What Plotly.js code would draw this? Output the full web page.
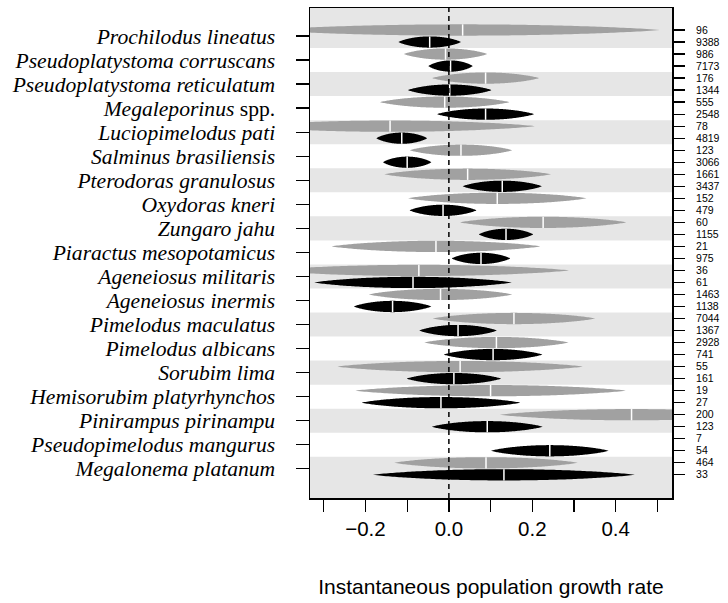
<!DOCTYPE html>
<html>
<head>
<meta charset="utf-8">
<script src="https://cdn.plot.ly/plotly-3.0.1.min.js"></script>
<style>html,body{margin:0;padding:0;background:#fff;}#chart{width:728px;height:603px;}</style>
</head>
<body>
<div id="chart"></div>
<script>
const species = [
  "<i>Prochilodus lineatus</i>",
  "<i>Pseudoplatystoma corruscans</i>",
  "<i>Pseudoplatystoma reticulatum</i>",
  "<i>Megaleporinus</i> spp.",
  "<i>Luciopimelodus pati</i>",
  "<i>Salminus brasiliensis</i>",
  "<i>Pterodoras granulosus</i>",
  "<i>Oxydoras kneri</i>",
  "<i>Zungaro jahu</i>",
  "<i>Piaractus mesopotamicus</i>",
  "<i>Ageneiosus militaris</i>",
  "<i>Ageneiosus inermis</i>",
  "<i>Pimelodus maculatus</i>",
  "<i>Pimelodus albicans</i>",
  "<i>Sorubim lima</i>",
  "<i>Hemisorubim platyrhynchos</i>",
  "<i>Pinirampus pirinampu</i>",
  "<i>Pseudopimelodus mangurus</i>",
  "<i>Megalonema platanum</i>"
];
// grey (upper) estimates: centre and half-width of interval
const greyMean = [0.033, -0.008, 0.088, -0.010, -0.141, 0.029, 0.045, 0.116, 0.226, -0.031, -0.072, -0.020, 0.156, 0.114, 0.027, 0.100, 0.438, null, 0.089];
const greyHalf = [0.473, 0.100, 0.128, 0.155, 0.347, 0.123, 0.200, 0.214, 0.199, 0.250, 0.360, 0.172, 0.195, 0.173, 0.294, 0.324, 0.316, null, 0.220];
// black (lower) estimates
const blackMean = [-0.046, 0.004, 0.002, 0.088, -0.113, -0.100, 0.128, -0.014, 0.137, 0.077, -0.086, -0.135, 0.022, 0.106, 0.012, -0.019, 0.092, 0.242, 0.132];
const blackHalf = [0.075, 0.053, 0.100, 0.116, 0.061, 0.058, 0.095, 0.080, 0.065, 0.070, 0.237, 0.093, 0.093, 0.118, 0.113, 0.190, 0.133, 0.141, 0.314];
// sample sizes
const greyN  = [96, 986, 176, 555, 78, 123, 1661, 152, 60, 21, 36, 1463, 7044, 2928, 55, 19, 200, 7, 464];
const blackN = [9388, 7173, 1344, 2548, 4819, 3066, 3437, 479, 1155, 975, 61, 1138, 1367, 741, 161, 27, 123, 54, 33];
const xTickVals = [-0.3, -0.2, -0.1, 0.0, 0.1, 0.2, 0.3, 0.4, 0.5];
const xTickText = ["", "\u22120.2", "", "0.0", "", "0.2", "", "0.4", ""];

const GREY = "#a1a1a1", BLACK = "#000000", BAND = "#e6e6e6";
const H = 0.47; // half height in row units
const traces = [];
const centreX = [], centreY = [];

function eye(m, hw, row, color) {
  const n = 120;
  const xs = [], ys = [];
  const prof = d => H * Math.pow(Math.max(0, 1 - d * d), 0.85);
  for (let k = 0; k <= n; k++) {
    const d = -1 + 2 * k / n;
    xs.push(m + d * hw); ys.push(row - prof(d));
  }
  for (let k = n; k >= 0; k--) {
    const d = -1 + 2 * k / n;
    xs.push(m + d * hw); ys.push(row + prof(d));
  }
  traces.push({type: "scatter", mode: "lines", x: xs, y: ys, fill: "toself",
    fillcolor: color, line: {width: 0, color: color, simplify: false},
    hoverinfo: "skip", showlegend: false});
  centreX.push(m, m, null); centreY.push(row - H, row + H, null);
}

species.forEach((s, i) => {
  if (greyMean[i] !== null) eye(greyMean[i], greyHalf[i], 2 * i, GREY);
  eye(blackMean[i], blackHalf[i], 2 * i + 1, BLACK);
});
traces.push({type: "scatter", mode: "lines", x: centreX, y: centreY,
  line: {color: "#ffffff", width: 1.5}, hoverinfo: "skip", showlegend: false});
const rowVals = [], rowText = [];
species.forEach((s, i) => { rowVals.push(2 * i, 2 * i + 1); rowText.push(String(greyN[i]), String(blackN[i])); });
traces.push({type: "scatter", mode: "markers", x: [0], y: [0], yaxis: "y2",
  marker: {opacity: 0}, hoverinfo: "skip", showlegend: false});

const shapes = [];
species.forEach((s, i) => {
  if (i % 2 === 1) shapes.push({type: "rect", xref: "paper", yref: "y", x0: 0, x1: 1,
    y0: 2 * i - 0.5, y1: 2 * i + 1.5, fillcolor: "#ffffff", line: {width: 0}, layer: "below"});
});
shapes.push({type: "line", xref: "x", yref: "paper", x0: 0, x1: 0, y0: 0, y1: 1,
  line: {color: "#000", width: 1.5, dash: "5px,4px"}, layer: "above"});

const yRange = [38.93, -1.83];
const layout = {
  width: 728, height: 603,
  margin: {l: 310, r: 56, t: 8, b: 105},
  paper_bgcolor: "#ffffff", plot_bgcolor: BAND,
  showlegend: false,
  shapes: shapes,
  xaxis: {
    range: [-0.333, 0.535], tickvals: xTickVals, ticktext: xTickText,
    ticks: "outside", ticklen: 12, tickwidth: 1.3, tickcolor: "#000",
    showgrid: false, zeroline: false, showline: true, mirror: true, linecolor: "#000", linewidth: 1.5,
    tickfont: {family: "Liberation Sans, Arial, sans-serif", size: 20.5, color: "#000"},
    ticklabelstandoff: 0,
    title: {text: "Instantaneous population growth rate", standoff: 40,
      font: {family: "Liberation Sans, Arial, sans-serif", size: 21, color: "#000"}},
    automargin: false, fixedrange: true
  },
  yaxis: {
    range: yRange, tickvals: species.map((s, i) => 2 * i + 0.5), ticktext: species,
    ticks: "outside", ticklen: 13, tickwidth: 1.3, tickcolor: "#000",
    showgrid: false, zeroline: false, showline: true, mirror: true, linecolor: "#000", linewidth: 1.5,
    tickfont: {family: "Liberation Serif, Times New Roman, serif", size: 21.6, color: "#000"},
    ticklabelstandoff: 16, automargin: false, fixedrange: true
  },
  yaxis2: {
    range: yRange, overlaying: "y", side: "right", tickvals: rowVals, ticktext: rowText,
    ticks: "outside", ticklen: 12, tickwidth: 1.3, tickcolor: "#000",
    showgrid: false, zeroline: false, showline: false,
    tickfont: {family: "Liberation Sans, Arial, sans-serif", size: 10.5, color: "#000"},
    ticklabelstandoff: 9, automargin: false, fixedrange: true
  }
};
Plotly.newPlot("chart", traces, layout, {displayModeBar: false, staticPlot: true});
</script>
</body>
</html>
